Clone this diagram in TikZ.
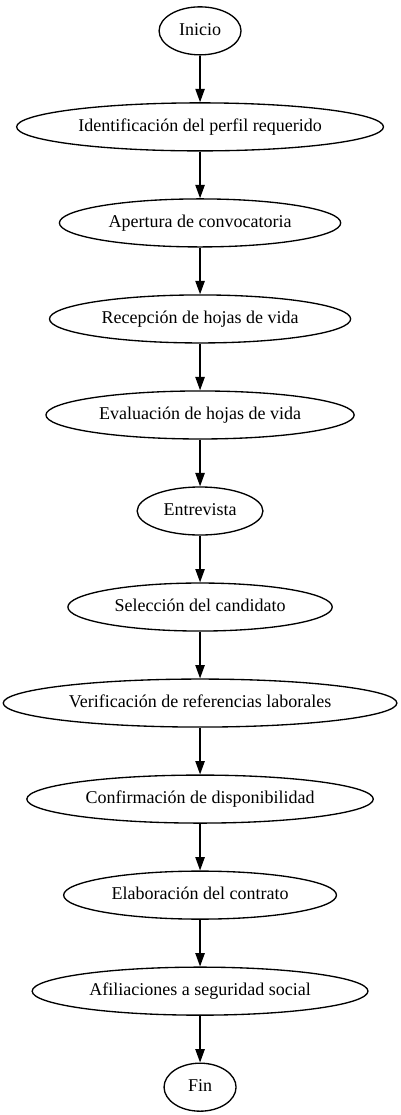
\documentclass[tikz,border=0pt]{standalone}
\usepackage{fontspec}
\setmainfont{Liberation Serif}
\usepackage{tikz}
\usetikzlibrary{arrows.meta,shapes.geometric}

\begin{document}
\begin{tikzpicture}[->,>={Triangle[length=10bp,width=7bp]}, line width=1bp, scale=1.0, every node/.style={scale=1.0},
	paso/.style={ellipse, draw, minimum width=54bp, minimum height=36bp, inner xsep=0bp, inner ysep=2bp, font=\fontsize{13.5bp}{16bp}\selectfont}]

	\useasboundingbox (-5.2917, 0.8161) rectangle (5.2917, -28.6761);

	\node[paso, shift = {(0.0, 0.0)}] (ini) {
		\begin{tabular}{c}
			Inicio
		\end{tabular}
	};

	\node[paso, shift = {(0.0, -2.54)}] (id_perf) {
		\begin{tabular}{c}
			Identificación del perfil requerido
		\end{tabular}
	};

	\node[paso, shift = {(0.0, -5.08)}] (ap_conv) {
		\begin{tabular}{c}
			Apertura de convocatoria
		\end{tabular}
	};

	\node[paso, shift = {(0.0, -7.62)}] (rec_hv) {
		\begin{tabular}{c}
			Recepción de hojas de vida
		\end{tabular}
	};

	\node[paso, shift = {(0.0, -10.16)}] (ev_hv) {
		\begin{tabular}{c}
			Evaluación de hojas de vida
		\end{tabular}
	};

	\node[paso, shift = {(0.0, -12.70)}] (entr) {
		\begin{tabular}{c}
			Entrevista
		\end{tabular}
	};

	\node[paso, shift = {(0.0, -15.24)}] (sel_cand) {
		\begin{tabular}{c}
			Selección del candidato
		\end{tabular}
	};

	\node[paso, shift = {(0.0, -17.78)}] (ver_ref) {
		\begin{tabular}{c}
			Verificación de referencias laborales
		\end{tabular}
	};

	\node[paso, shift = {(0.0, -20.32)}] (conf_disp) {
		\begin{tabular}{c}
			Confirmación de disponibilidad
		\end{tabular}
	};

	\node[paso, shift = {(0.0, -22.86)}] (elab_con) {
		\begin{tabular}{c}
			Elaboración del contrato
		\end{tabular}
	};

	\node[paso, shift = {(0.0, -25.40)}] (afil_ss) {
		\begin{tabular}{c}
			Afiliaciones a seguridad social
		\end{tabular}
	};

	\node[paso, shift = {(0.0, -27.94)}] (fin) {
		\begin{tabular}{c}
			Fin
		\end{tabular}
	};


	\path[->] (ini) edge [] (id_perf);
	\path[->] (id_perf) edge [] (ap_conv);
	\path[->] (ap_conv) edge [] (rec_hv);
	\path[->] (rec_hv) edge [] (ev_hv);
	\path[->] (ev_hv) edge [] (entr);
	\path[->] (entr) edge [] (sel_cand);
	\path[->] (sel_cand) edge [] (ver_ref);
	\path[->] (ver_ref) edge [] (conf_disp);
	\path[->] (conf_disp) edge [] (elab_con);
	\path[->] (elab_con) edge [] (afil_ss);
	\path[->] (afil_ss) edge [] (fin);
\end{tikzpicture}
\end{document}
